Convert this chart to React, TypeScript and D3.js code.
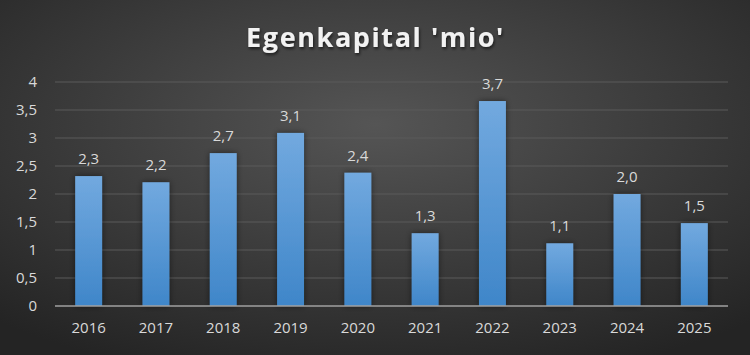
import React from "react";
import * as d3 from "d3";

const years = ["2016", "2017", "2018", "2019", "2020", "2021", "2022", "2023", "2024", "2025"];
const values = [2.32, 2.21, 2.73, 3.09, 2.38, 1.3, 3.66, 1.12, 2.0, 1.48];
const yTicks = [0, 0.5, 1, 1.5, 2, 2.5, 3, 3.5, 4];
const title = "Egenkapital 'mio'";

const W = 750, H = 355;
const left = 55, right = 728, top = 82, bottom = 306;

export default function App() {
  const x = d3.scaleBand<string>().domain(years).range([left, right]).paddingInner(0.6).paddingOuter(0.3);
  const y = d3.scaleLinear().domain([0, 4]).range([bottom, top]);
  const fmt = (v: number) => v.toFixed(1).replace(".", ",");
  const tickFmt = (v: number) => String(v).replace(".", ",");
  const font = "'Open Sans', 'Liberation Sans', sans-serif";
  return (
    <svg width={W} height={H} style={{ position: "absolute", left: 0, top: 0 }}>
      <defs>
        <radialGradient id="bg" cx="50%" cy="35%" r="75%">
          <stop offset="0%" stopColor="#555555" />
          <stop offset="100%" stopColor="#242424" />
        </radialGradient>
        <linearGradient id="bar" x1="0" y1="0" x2="0" y2="1">
          <stop offset="0%" stopColor="#72a9df" />
          <stop offset="100%" stopColor="#3f86c9" />
        </linearGradient>
        <filter id="sh" x="-50%" y="-20%" width="200%" height="140%">
          <feGaussianBlur in="SourceAlpha" stdDeviation="3" />
          <feOffset dx="0" dy="0" result="b" />
          <feComponentTransfer><feFuncA type="linear" slope="0.5" /></feComponentTransfer>
          <feMerge><feMergeNode /><feMergeNode in="SourceGraphic" /></feMerge>
        </filter>
        <filter id="tsh" x="-10%" y="-30%" width="120%" height="160%">
          <feGaussianBlur in="SourceAlpha" stdDeviation="1.5" />
          <feOffset dx="1" dy="2" />
          <feComponentTransfer><feFuncA type="linear" slope="0.6" /></feComponentTransfer>
          <feMerge><feMergeNode /><feMergeNode in="SourceGraphic" /></feMerge>
        </filter>
      </defs>
      <rect x={0} y={0} width={W} height={H} fill="url(#bg)" />
      <text x={375.5} y={47} textAnchor="middle" fill="#f2f2f2" fontFamily={font} fontWeight={700}
        fontSize={27} letterSpacing={1.6} filter="url(#tsh)">{title}</text>
      {yTicks.map((t) => (
        <g key={t}>
          {t > 0 && <line x1={left} x2={right} y1={y(t)} y2={y(t)} stroke="#5a5a5a" strokeWidth={1.2} />}
          <text x={37} y={y(t)} dy="0.35em" textAnchor="end" fill="#d9d9d9" fontFamily={font} fontSize={15}>{tickFmt(t)}</text>
        </g>
      ))}
      {years.map((yr, i) => (
        <g key={yr}>
          <rect x={x(yr)} y={y(values[i])} width={x.bandwidth()} height={bottom - y(values[i])}
            fill="url(#bar)" filter="url(#sh)" />
          <text x={(x(yr) as number) + x.bandwidth() / 2} y={y(values[i]) - 12} textAnchor="middle"
            fill="#d9d9d9" fontFamily={font} fontSize={15}>{fmt(values[i])}</text>
          <text x={(x(yr) as number) + x.bandwidth() / 2} y={333} textAnchor="middle"
            fill="#d9d9d9" fontFamily={font} fontSize={15}>{yr}</text>
        </g>
      ))}
      <line x1={left} x2={right} y1={bottom} y2={bottom} stroke="#a0a0a0" strokeWidth={1.5} />
    </svg>
  );
}
